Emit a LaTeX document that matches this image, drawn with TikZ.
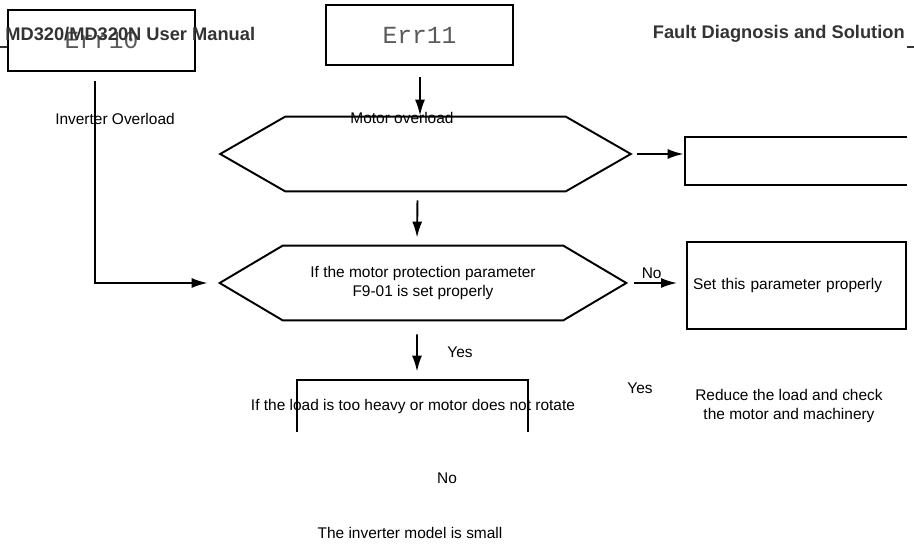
\documentclass[tikz,border=0pt]{standalone}
\usepackage{fontspec}
\setmainfont{Liberation Sans}
\setmonofont{Liberation Mono}
\usetikzlibrary{arrows.meta, positioning, calc}
\definecolor{headink}{HTML}{333333}
\definecolor{errink}{HTML}{5A5A5A}
\tikzset{
  line/.style={line width=1.1pt},
  arr/.style={line, -{Latex[length=3.2mm, width=2mm]}},
  errbox/.style={draw, line, minimum width=3.74cm, minimum height=1.22cm,
    font=\ttfamily\fontsize{14}{16}\selectfont, text=errink},
  hexcore/.style={minimum width=5.6cm, minimum height=1.48cm, inner sep=0pt, align=center},
  lbl/.style={inner sep=1pt, align=center},
  head/.style={inner sep=0pt, font=\bfseries\fontsize{10.4}{12.5}\selectfont, text=headink},
}
% hexagon round a core node: name, depth of the points
\newcommand{\hexoutline}[2]{%
  \coordinate (#1-l) at ($(#1.west)+(-#2,0)$);
  \coordinate (#1-r) at ($(#1.east)+(#2,0)$);
  \draw[line] (#1-l) -- (#1.north west) -- (#1.north east) -- (#1-r)
    -- (#1.south east) -- (#1.south west) -- cycle;}

\begin{document}
\begin{tikzpicture}[x=0.02cm, y=-0.02cm, font=\fontsize{8.8}{11.3}\selectfont]
  \useasboundingbox (0,0) rectangle (914,547);

  % fault codes
  \node[errbox] (err10) at (101.5,40.5) {Err10};
  \node[errbox, minimum height=1.2cm] (err11) at (419.5,35) {Err11};

  % page header
  \draw[headink, line width=0.6pt] (0,47) -- (7,47);
  \draw[headink, line width=0.6pt] (907,47) -- (914,47);
  \node[head, anchor=west] (hdL) at (5,34) {MD320/MD320N User Manual};
  \node[head, anchor=east] (hdR) at (905,34) {Fault Diagnosis and Solution};

  % checks
  \node[hexcore] (chkA) at (425.5,154) {};
  \hexoutline{chkA}{65}
  \node[hexcore] (chkB) at (423,283) {If the motor protection parameter\\F9-01 is set properly};
  \hexoutline{chkB}{63}

  % actions
  \node[minimum width=4.44cm, minimum height=0.96cm, inner sep=0pt] (actA) at (796,161) {};
  \draw[line] (actA.north east) -- (actA.north west) -- (actA.south west) -- (actA.south east);
  \node[draw, line, minimum width=4.38cm, minimum height=1.74cm, text width=4.14cm,
    inner xsep=0.12cm, align=left] (actB) at (796.5,285.5) {Set this parameter properly};
  \node[minimum width=4.62cm, minimum height=1.04cm, inner sep=0pt] (actC) at (412.5,406) {};
  \draw[line] (actC.south west) -- (actC.north west) -- (actC.north east) -- (actC.south east);
  \node[lbl] (loadC) at ($(actC.center)+(0.5,1)$) {If the load is too heavy or motor does not rotate};

  % connectors
  \coordinate (e10out) at ($(err10.south)+(-6.5,9)$);
  \draw[arr] (e10out) |- ($(chkB-l)+(-12,0)$);
  \draw[arr] ($(err11.south)+(0.5,11)$) -- ($(err11.south |- chkA.north)+(0.5,-1)$);
  \draw[arr] ($(chkA.south)+(-8,9)$) -- ($(chkB.north)+(-6,-8)$);
  \draw[arr, shorten <=1.2mm] (chkA-r) -- ($(chkA-r -| actA.west)+(-1,0)$);
  \draw[arr, shorten <=1.6mm] (chkB-r) -- node[lbl, above=1pt] (noB) {No}
    ($(chkB-r -| actB.west)+(-9,0)$);
  \draw[arr] ($(chkB.south)+(-6,14)$) -- ($(actC.north)+(4.5,-8)$);

  % labels
  \node[lbl] (ovlA) at (115,119) {Inverter Overload};
  \node[lbl] (ovlB) at (402,118) {Motor overload};
  \node[lbl] (yesB) at (460,352) {Yes};
  \node[lbl] (yesC) at (640,388) {Yes};
  \node[lbl] (redC) at (789,406) {Reduce the load and check\\the motor and machinery};
  \node[lbl] (noC) at (447,478) {No};
  \node[lbl] (smlC) at (410,533) {The inverter model is small};
\end{tikzpicture}
\end{document}
